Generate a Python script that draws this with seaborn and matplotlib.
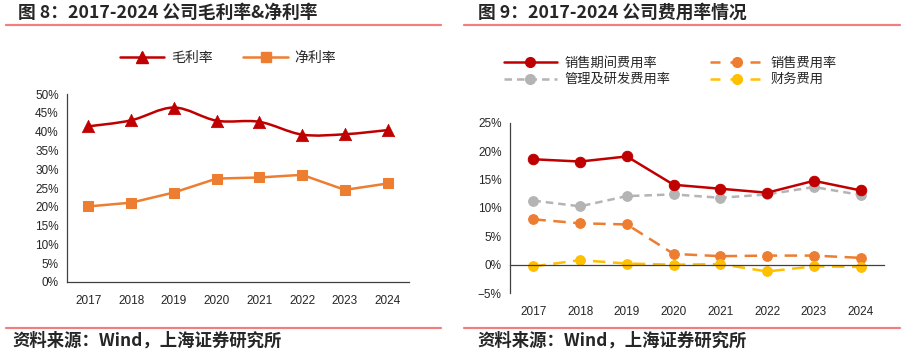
# -*- coding: utf-8 -*-
"""
Margins and expense ratios, 2017-2024: two panels side by side.
"""

import numpy as np
import pandas as pd
import seaborn as sns
import matplotlib.pyplot as plt
from matplotlib.lines import Line2D
from matplotlib.path import Path
from matplotlib.patches import PathPatch

years = ['2017', '2018', '2019', '2020', '2021', '2022', '2023', '2024']

# left panel (%)
gross_margin = [41.4, 43.0, 46.4, 42.9, 42.6, 39.2, 39.3, 40.4]
net_margin = [20.1, 21.1, 23.8, 27.5, 27.8, 28.5, 24.5, 26.2]

# right panel (%)
period_exp = [18.6, 18.2, 19.1, 14.1, 13.4, 12.7, 14.8, 13.1]
sales_exp = [8.0, 7.3, 7.1, 1.9, 1.5, 1.6, 1.6, 1.2]
admin_rd_exp = [11.3, 10.3, 12.1, 12.4, 11.8, 12.4, 13.7, 12.3]
finance_exp = [-0.3, 0.8, 0.2, 0.0, 0.1, -1.2, -0.3, -0.4]

RED = '#C00000'
ORANGE = '#ED7D31'
GRAY = '#B4B4B4'
YELLOW = '#FFC000'
PINK = '#F08080'

sns.set_theme(style='white')
plt.rcParams['font.family'] = ['Liberation Sans', 'Noto Sans CJK SC', 'DejaVu Sans']
CJK = ['Noto Sans CJK SC', 'DejaVu Sans']


def smooth_path(xs, ys):
    """Excel-like smoothed line as cubic Bezier segments."""
    pts = np.column_stack([xs, ys]).astype(float)
    verts = [pts[0]]
    codes = [Path.MOVETO]
    n = len(pts)
    for i in range(n - 1):
        p0 = pts[max(i - 1, 0)]
        p1 = pts[i]
        p2 = pts[i + 1]
        p3 = pts[min(i + 2, n - 1)]
        c1 = p1 + (p2 - p0) / 6.0
        c2 = p2 - (p3 - p1) / 6.0
        verts += [c1, c2, p2]
        codes += [Path.CURVE4] * 3
    return Path(verts, codes)


def style_axis(ax, ymin, ymax, step):
    ax.set_xlim(-0.5, len(years) - 0.5)
    ax.set_ylim(ymin, ymax)
    ax.set_yticks(np.arange(ymin, ymax + 0.1, step))
    ax.set_yticklabels([f'{v:.0f}%'.replace('-', '\u2212') for v in np.arange(ymin, ymax + 0.1, step)])
    ax.set_xticks(np.arange(-0.5, len(years)), minor=False)
    ax.set_xticklabels([])
    ax.set_xticks(np.arange(len(years)), minor=True)
    ax.set_xticklabels(years, minor=True)
    ax.tick_params(axis='x', which='minor', length=0, labelsize=8.5, colors='#262626')
    ax.tick_params(axis='x', which='major', length=4, width=0.8, color='#404040', direction='out')
    ax.tick_params(axis='y', length=4, width=0.8, color='#404040', direction='out',
                   labelsize=8.5, colors='#262626', pad=2)
    for side in ['top', 'right']:
        ax.spines[side].set_visible(False)
    for side in ['left', 'bottom']:
        ax.spines[side].set_color('#404040')
        ax.spines[side].set_linewidth(0.9)
    ax.set_xlabel('')
    ax.set_ylabel('')
    ax.grid(False)


fig = plt.figure(figsize=(9.04, 3.56), dpi=100)
x = np.arange(len(years))

# ---------- left panel ----------
ax1 = fig.add_axes([67 / 904, 1 - 282 / 356, 342 / 904, 188 / 356])
df1 = pd.DataFrame({'x': x, 'gross': gross_margin, 'net': net_margin})
ax1.add_patch(PathPatch(smooth_path(x, gross_margin), fill=False, edgecolor=RED, lw=1.8))
sns.scatterplot(data=df1, x='x', y='gross', marker='^', s=80, color=RED,
                edgecolor=RED, linewidth=0.5, ax=ax1, zorder=3)
sns.lineplot(data=df1, x='x', y='net', marker='s', markersize=7.5, color=ORANGE,
             markeredgecolor=ORANGE, lw=1.8, ax=ax1, zorder=3)
style_axis(ax1, 0, 50, 5)
ax1.tick_params(axis='x', which='minor', pad=9)

h1 = [Line2D([], [], color=RED, lw=1.8, marker='^', markersize=8),
      Line2D([], [], color=ORANGE, lw=1.8, marker='s', markersize=7)]
fig.legend(h1, ['毛利率', '净利率'], loc='center', bbox_to_anchor=(228 / 904, 1 - 58 / 356),
           ncol=2, frameon=False, prop={'family': CJK, 'size': 10},
           handlelength=3.2, columnspacing=2.2, handletextpad=0.5)

# ---------- right panel ----------
ax2 = fig.add_axes([510 / 904, 1 - 293 / 356, 374 / 904, 170 / 356])
df2 = pd.DataFrame({'x': x, 'period': period_exp, 'sales': sales_exp,
                    'admin': admin_rd_exp, 'fin': finance_exp})
sns.lineplot(data=df2, x='x', y='admin', marker='o', markersize=7, color=GRAY,
             markeredgecolor=GRAY, lw=1.8, linestyle=(0, (3, 2)), ax=ax2, zorder=2)
sns.lineplot(data=df2, x='x', y='sales', marker='o', markersize=7, color=ORANGE,
             markeredgecolor=ORANGE, lw=1.8, linestyle=(0, (5, 3)), ax=ax2, zorder=2)
sns.lineplot(data=df2, x='x', y='fin', marker='o', markersize=7, color=YELLOW,
             markeredgecolor=YELLOW, lw=1.8, linestyle=(0, (5, 3)), ax=ax2, zorder=2)
sns.lineplot(data=df2, x='x', y='period', marker='o', markersize=7.5, color=RED,
             markeredgecolor=RED, lw=1.8, ax=ax2, zorder=3)
style_axis(ax2, -5, 25, 5)
ax2.spines['bottom'].set_position(('data', 0))
ax2.tick_params(axis='x', which='minor', pad=30)

h2 = [Line2D([], [], color=RED, lw=1.8, marker='o', markersize=7),
      Line2D([], [], color=GRAY, lw=1.8, ls=(0, (3, 2)), marker='o', markersize=7),
      Line2D([], [], color=ORANGE, lw=1.8, ls=(0, (4, 4)), marker='o', markersize=7),
      Line2D([], [], color=YELLOW, lw=1.8, ls=(0, (4, 4)), marker='o', markersize=7)]
fig.legend(h2, ['销售期间费用率', '管理及研发费用率', '销售费用率', '财务费用'],
           loc='upper left', bbox_to_anchor=(492 / 904, 1 - 45 / 356),
           ncol=2, frameon=False, prop={'family': CJK, 'size': 9.5},
           handlelength=4.0, columnspacing=3.0, handletextpad=0.6, labelspacing=0.25)

# ---------- titles, rules, sources ----------
fig.text(18 / 904, 1 - 13 / 356, '图 8：2017-2024 公司毛利率&净利率', family=CJK,
         fontsize=12.8, fontweight='bold', va='center', ha='left')
fig.text(478 / 904, 1 - 13 / 356, '图 9：2017-2024 公司费用率情况', family=CJK,
         fontsize=12.8, fontweight='bold', va='center', ha='left')
for x0, x1 in [(6, 441), (464, 900)]:
    for yy in [25, 328]:
        fig.add_artist(Line2D([x0 / 904, x1 / 904], [1 - yy / 356] * 2, color=PINK, lw=1.6))
for x0 in [12, 477]:
    fig.text(x0 / 904, 1 - 341 / 356, '资料来源：Wind，上海证券研究所', family=CJK,
             fontsize=12.5, fontweight='bold', fontstyle='italic', va='center', ha='left')

plt.savefig('out.png', dpi=100)
